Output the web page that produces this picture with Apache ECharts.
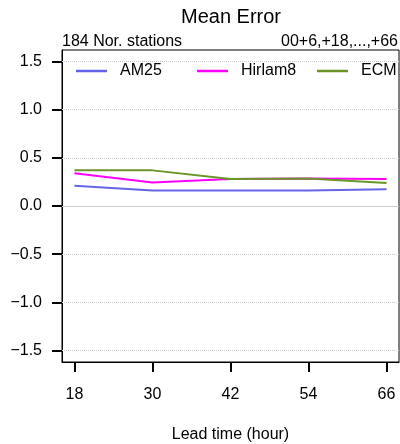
<!DOCTYPE html>
<html>
<head>
<meta charset="utf-8">
<script src="https://cdn.jsdelivr.net/npm/echarts@6/dist/echarts.min.js"></script>
<style>html,body{margin:0;padding:0;background:#fff;}#c{width:400px;height:444px;}</style>
</head>
<body>
<div id="c"></div>
<script>
var leadTimes = [18, 30, 42, 54, 66];
var am25 = [0.21, 0.16, 0.16, 0.16, 0.175];
var hirlam8 = [0.34, 0.245, 0.28, 0.285, 0.28];
var ecm = [0.37, 0.37, 0.28, 0.285, 0.24];
var yTicks = [-1.5, -1.0, -0.5, 0.0, 0.5, 1.0, 1.5];
var seriesNames = ['AM25', 'Hirlam8', 'ECM'];
var colors = ['#6464E8', '#FF00FF', '#6B9526'];

var FONT = 'Liberation Sans, Arial, Helvetica, sans-serif';
function pairs(vals) { return leadTimes.map(function (x, i) { return [x, vals[i]]; }); }
function fmtY(v) { var s = Math.abs(v).toFixed(1); return v < 0 ? '\u2212' + s : s; }

var chart = echarts.init(document.getElementById('c'), null, {renderer: 'canvas'});
var gridLines = yTicks.map(function (v) {
  return {yAxis: v, lineStyle: {color: '#cccccc', width: 1, type: v === 0 ? 'solid' : 'dotted'}};
});
var allData = [am25, hirlam8, ecm];
var series = seriesNames.map(function (n, i) {
  return {
    name: n, type: 'line', data: pairs(allData[i]), symbol: 'none',
    lineStyle: {color: colors[i], width: 2}, itemStyle: {color: colors[i]},
    z: 3 + i, animation: false
  };
});
series.unshift({
  type: 'line', data: [], silent: true, animation: false,
  markLine: {symbol: 'none', silent: true, label: {show: false}, data: gridLines, animation: false}
});
var legendLefts = [76, 197, 317];
var legends = seriesNames.map(function (n, i) {
  return {
    data: [{name: n, icon: 'rect'}], left: legendLefts[i], top: 63, padding: 0,
    itemWidth: 31, itemHeight: 2.5, selectedMode: false,
    textStyle: {fontFamily: FONT, fontSize: 16, color: '#000', padding: [0, 0, 0, 8]}
  };
});
chart.setOption({
  animation: false,
  title: [
    {text: 'Mean Error', left: 231, textAlign: 'center', top: 7, padding: 0,
     textStyle: {fontFamily: FONT, fontSize: 20, fontWeight: 'normal', color: '#000'}},
    {text: '184 Nor. stations', left: 62, top: 34, padding: 0,
     textStyle: {fontFamily: FONT, fontSize: 16, fontWeight: 'normal', color: '#000'}},
    {text: '00+6,+18,...,+66', right: 2, top: 34, padding: 0,
     textStyle: {fontFamily: FONT, fontSize: 16, fontWeight: 'normal', color: '#000'}}
  ],
  legend: legends,
  grid: {left: 62, top: 50, width: 337, height: 312, show: true, borderColor: '#000', borderWidth: 1,
    backgroundColor: 'transparent', containLabel: false, outerBoundsMode: 'none'},
  xAxis: {
    type: 'value', min: 16.08, max: 67.92,
    name: 'Lead time (hour)', nameLocation: 'middle', nameGap: 65,
    nameTextStyle: {fontFamily: FONT, fontSize: 16, color: '#000'},
    axisLine: {show: true, onZero: false, lineStyle: {color: '#000', width: 1}},
    axisTick: {show: true, customValues: leadTimes, length: 10, inside: false, lineStyle: {color: '#000', width: 2}},
    axisLabel: {customValues: leadTimes, margin: 25, fontFamily: FONT, fontSize: 16, color: '#000',
      formatter: function (v) { return String(Math.round(v)); }},
    splitLine: {show: false}
  },
  yAxis: {
    type: 'value', min: -1.62, max: 1.62,
    axisLine: {show: true, onZero: false, lineStyle: {color: '#000', width: 1}},
    axisTick: {show: true, customValues: yTicks, length: 10, inside: false, lineStyle: {color: '#000', width: 2}},
    axisLabel: {customValues: yTicks, margin: 20, fontFamily: FONT, fontSize: 16, color: '#000', formatter: fmtY},
    splitLine: {show: false}
  },
  series: series
});
</script>
</body>
</html>
